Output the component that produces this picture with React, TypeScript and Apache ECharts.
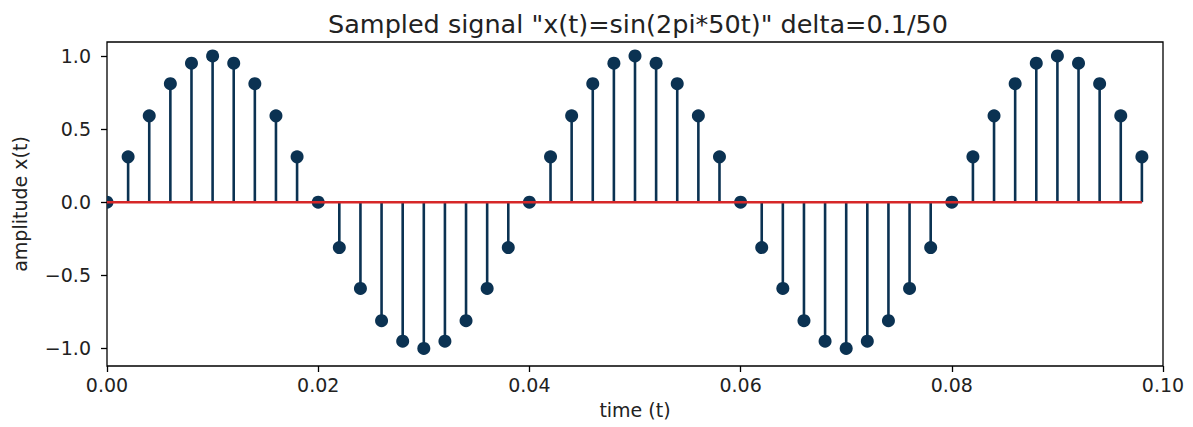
import React, { useEffect, useRef } from "react";
import * as echarts from "echarts";

const timeValues: number[] = [
  0.0, 0.002, 0.004, 0.006, 0.008, 0.01, 0.012, 0.014, 0.016, 0.018,
  0.02, 0.022, 0.024, 0.026, 0.028, 0.03, 0.032, 0.034, 0.036, 0.038,
  0.04, 0.042, 0.044, 0.046, 0.048, 0.05, 0.052, 0.054, 0.056, 0.058,
  0.06, 0.062, 0.064, 0.066, 0.068, 0.07, 0.072, 0.074, 0.076, 0.078,
  0.08, 0.082, 0.084, 0.086, 0.088, 0.09, 0.092, 0.094, 0.096, 0.098,
];

const amplitudeValues: number[] = [
  0.0, 0.31, 0.59, 0.81, 0.95, 1.0, 0.95, 0.81, 0.59, 0.31,
  0.0, -0.31, -0.59, -0.81, -0.95, -1.0, -0.95, -0.81, -0.59, -0.31,
  0.0, 0.31, 0.59, 0.81, 0.95, 1.0, 0.95, 0.81, 0.59, 0.31,
  0.0, -0.31, -0.59, -0.81, -0.95, -1.0, -0.95, -0.81, -0.59, -0.31,
  0.0, 0.31, 0.59, 0.81, 0.95, 1.0, 0.95, 0.81, 0.59, 0.31,
];

const yTickValues: number[] = [-1.0, -0.5, 0.0, 0.5, 1.0];

const titleText = 'Sampled signal "x(t)=sin(2pi*50t)" delta=0.1/50';
const xAxisName = "time (t)";
const yAxisName = "amplitude x(t)";

const STEM_COLOR = "#0b3252";
const BASE_COLOR = "#d62728";
const TEXT_COLOR = "#222";
const FONT = "DejaVu Sans";

export default function App() {
  const ref = useRef<HTMLDivElement>(null);

  useEffect(() => {
    document.body.style.margin = "0";
    if (!ref.current) return;
    const chart = echarts.init(ref.current, undefined, { renderer: "svg" });

    const points = timeValues.map((t, i) => [t, amplitudeValues[i]]);
    const baseline = [[timeValues[0], timeValues[timeValues.length - 1]]];

    chart.setOption({
      animation: false,
      backgroundColor: "#fff",
      textStyle: { fontFamily: FONT },
      title: {
        text: titleText,
        left: 633,
        top: 6,
        textAlign: "center",
        textStyle: {
          fontFamily: FONT,
          fontSize: 25.5,
          fontWeight: "normal",
          color: TEXT_COLOR,
        },
      },
      grid: {
        left: 107,
        right: 30,
        top: 42,
        bottom: 61,
        show: true,
        borderColor: "#000",
        borderWidth: 1.3,
        backgroundColor: "transparent",
      },
      xAxis: {
        type: "value",
        position: "bottom",
        min: 0,
        max: 0.1,
        interval: 0.02,
        name: xAxisName,
        nameLocation: "middle",
        nameGap: 34,
        nameTextStyle: {
          fontFamily: FONT,
          fontSize: 19,
          color: TEXT_COLOR,
          verticalAlign: "top",
        },
        axisLine: { show: false, onZero: false },
        axisTick: {
          show: true,
          inside: false,
          length: 6,
          lineStyle: { color: "#000", width: 1.3 },
        },
        axisLabel: {
          fontFamily: FONT,
          fontSize: 19,
          color: TEXT_COLOR,
          margin: 9,
          formatter: (v: number) => v.toFixed(2),
        },
        splitLine: { show: false },
      },
      yAxis: {
        type: "value",
        position: "left",
        min: -1.12,
        max: 1.095,
        name: yAxisName,
        nameLocation: "middle",
        nameGap: 78,
        nameRotate: 90,
        nameTextStyle: {
          fontFamily: FONT,
          fontSize: 19,
          color: TEXT_COLOR,
        },
        axisLine: { show: false, onZero: false },
        axisTick: {
          show: true,
          inside: false,
          length: 6,
          customValues: yTickValues,
          lineStyle: { color: "#000", width: 1.3 },
        },
        axisLabel: {
          fontFamily: FONT,
          fontSize: 19,
          color: TEXT_COLOR,
          margin: 16,
          customValues: yTickValues,
          formatter: (v: number) => {
            const s = Math.abs(v).toFixed(1);
            return v < -1e-9 ? "\u2212" + s : s;
          },
        },
        splitLine: { show: false },
      },
      series: [
        {
          type: "custom",
          clip: true,
          data: points,
          encode: { x: 0, y: 1 },
          renderItem: (params: any, api: any) => {
            const x = api.value(0);
            const y = api.value(1);
            const top = api.coord([x, y]);
            const base = api.coord([x, 0]);
            return {
              type: "group",
              children: [
                {
                  type: "line",
                  shape: { x1: top[0], y1: base[1], x2: top[0], y2: top[1] },
                  style: { stroke: STEM_COLOR, lineWidth: 2.6 },
                },
                {
                  type: "circle",
                  shape: { cx: top[0], cy: top[1], r: 6.5 },
                  style: { fill: STEM_COLOR },
                },
              ],
            };
          },
          z: 2,
        },
        {
          type: "custom",
          clip: true,
          data: baseline,
          encode: { x: [0, 1] },
          renderItem: (params: any, api: any) => {
            const a = api.coord([api.value(0), 0]);
            const b = api.coord([api.value(1), 0]);
            return {
              type: "line",
              shape: { x1: a[0], y1: a[1], x2: b[0], y2: b[1] },
              style: { stroke: BASE_COLOR, lineWidth: 2.5 },
            };
          },
          z: 3,
        },
      ],
    });

    return () => chart.dispose();
  }, []);

  return <div ref={ref} style={{ width: 1193, height: 427 }} />;
}
